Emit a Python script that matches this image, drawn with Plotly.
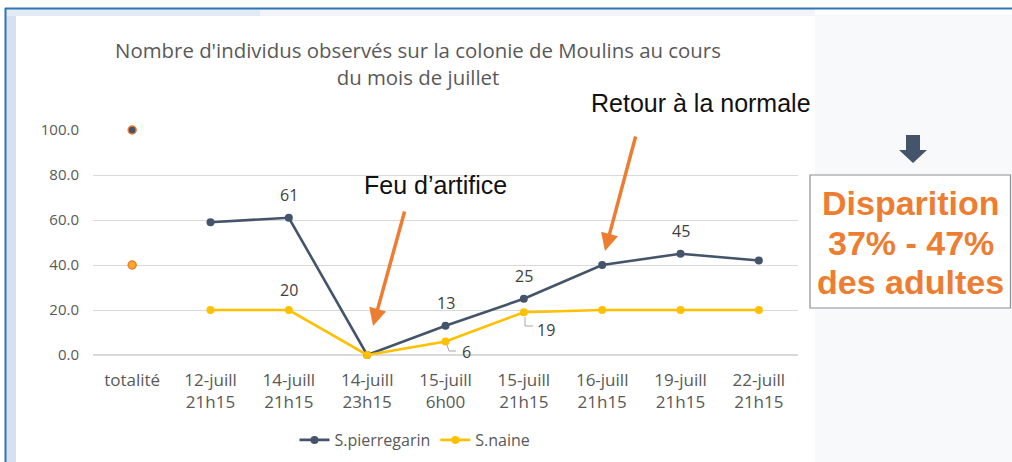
import plotly.graph_objects as go

# ---------------- data ----------------
categories = ["totalité", "12-juill<br>21h15", "14-juill<br>21h15", "14-juill<br>23h15",
              "15-juill<br>6h00", "15-juill<br>21h15", "16-juill<br>21h15",
              "19-juill<br>21h15", "22-juill<br>21h15"]
pierregarin = [None, 59, 61, 0, 13, 25, 40, 45, 42]
naine = [None, 20, 20, 0, 6, 19, 20, 20, 20]
totalite_pierregarin = 100
totalite_naine = 40
labels_pierregarin = ["", "", "61", "", "13", "25", "", "45", ""]
labels_naine = ["", "", "20", "", "6", "19", "", "", ""]
y_ticks = [0, 20, 40, 60, 80, 100]

NAVY = "#44546A"
YELLOW = "#FFC000"
ORANGE = "#ED7D31"
GREY_TXT = "#595959"
LBL = "#404040"
CH_FONT = "Open Sans"

W, H = 1012, 462
L, R, T, B = 93, 798, 130, 355   # plot area in pixels
PW, PH = R - L, B - T


def px(x):
    return (x - L) / PW


def py(y):
    return (B - y) / PH


xs = list(range(len(categories)))

fig = go.Figure()

fig.add_trace(go.Scatter(
    x=xs, y=pierregarin, name="S.pierregarin", mode="lines+markers",
    line=dict(color=NAVY, width=2.6), marker=dict(color=NAVY, size=8),
    connectgaps=False, cliponaxis=False))
fig.add_trace(go.Scatter(
    x=xs, y=naine, name="S.naine", mode="lines+markers",
    line=dict(color=YELLOW, width=2.6), marker=dict(color=YELLOW, size=8),
    connectgaps=False, cliponaxis=False))
# totalité points
fig.add_trace(go.Scatter(
    x=[xs[0]], y=[totalite_pierregarin], mode="markers", showlegend=False,
    marker=dict(color=NAVY, size=8, line=dict(color=ORANGE, width=1.5)), cliponaxis=False))
fig.add_trace(go.Scatter(
    x=[xs[0]], y=[totalite_naine], mode="markers", showlegend=False,
    marker=dict(color="#F9A825", size=8, line=dict(color=ORANGE, width=1.5)), cliponaxis=False))

annotations = []
# data labels
for i, t in enumerate(labels_pierregarin):
    if t:
        annotations.append(dict(x=xs[i], y=pierregarin[i], xref="x", yref="y", text=t, showarrow=False,
                                xanchor="center", yanchor="middle", yshift=23,
                                font=dict(family=CH_FONT, size=16, color=LBL)))
for i, t in enumerate(labels_naine):
    if not t:
        continue
    if i == 2:
        xsft, ysft = 0, 20
    elif i == 4:
        xsft, ysft = 21, -10
    else:
        xsft, ysft = 22, -18
    annotations.append(dict(x=xs[i], y=naine[i], xref="x", yref="y", text=t, showarrow=False,
                            xanchor="center", yanchor="middle", xshift=xsft, yshift=ysft,
                            font=dict(family=CH_FONT, size=16, color=LBL)))

shapes = []
# slide background decorations
shapes.append(dict(type="rect", xref="paper", yref="paper", x0=px(815), x1=px(1012), y0=py(462), y1=py(14),
                   fillcolor="#F8F9FB", line=dict(width=0), layer="below"))
shapes.append(dict(type="rect", xref="paper", yref="paper", x0=px(6), x1=px(16), y0=py(462), y1=py(9),
                   fillcolor="#D6E1EE", line=dict(width=0), layer="below"))
shapes.append(dict(type="rect", xref="paper", yref="paper", x0=px(6), x1=px(260), y0=py(16), y1=py(9),
                   fillcolor="#E2EAF3", line=dict(width=0), layer="below"))
shapes.append(dict(type="rect", xref="paper", yref="paper", x0=px(260), x1=px(815), y0=py(16), y1=py(9),
                   fillcolor="#F1F5F9", line=dict(width=0), layer="below"))
shapes.append(dict(type="line", xref="paper", yref="paper", x0=px(5), x1=px(1012), y0=py(8.5), y1=py(8.5),
                   line=dict(color="#2E75B6", width=2)))
shapes.append(dict(type="line", xref="paper", yref="paper", x0=px(5.5), x1=px(5.5), y0=py(8), y1=py(462),
                   line=dict(color="#2E75B6", width=2)))
# leader lines for 6 and 19
shapes.append(dict(type="path", xref="paper", yref="paper",
                   path=f"M {px(447)},{py(345)} L {px(449)},{py(351)} L {px(456)},{py(351)}",
                   line=dict(color="#A6A6A6", width=1)))
shapes.append(dict(type="path", xref="paper", yref="paper",
                   path=f"M {px(525)},{py(317)} L {px(525)},{py(326)} L {px(533)},{py(326)}",
                   line=dict(color="#A6A6A6", width=1)))
# right box
shapes.append(dict(type="rect", xref="paper", yref="paper", x0=px(810), x1=px(1010.5), y0=py(308), y1=py(175),
                   fillcolor="white", line=dict(color="#8E8E8E", width=1.2)))
# down block arrow
arrow_path = (f"M {px(906)},{py(135)} L {px(920)},{py(135)} L {px(920)},{py(150)} L {px(927)},{py(150)} "
              f"L {px(913)},{py(163)} L {px(899)},{py(150)} L {px(906)},{py(150)} Z")
shapes.append(dict(type="path", xref="paper", yref="paper", path=arrow_path,
                   fillcolor=NAVY, line=dict(width=0)))

annotations += [
    dict(xref="paper", yref="paper", x=px(435), y=py(185), text="Feu d’artifice", showarrow=False,
         xanchor="center", yanchor="middle",
         font=dict(family="Liberation Sans", size=25, color="#111111")),
    dict(xref="paper", yref="paper", x=px(701), y=py(103), text="Retour à la normale", showarrow=False,
         xanchor="center", yanchor="middle",
         font=dict(family="Liberation Sans", size=25, color="#111111")),
    dict(xref="paper", yref="paper", x=px(373), y=py(326), text="", showarrow=True,
         ax=32, ay=-116, arrowcolor=ORANGE, arrowwidth=3.5, arrowhead=2, arrowsize=1),
    dict(xref="paper", yref="paper", x=px(605), y=py(251), text="", showarrow=True,
         ax=31, ay=-116, arrowcolor=ORANGE, arrowwidth=3.5, arrowhead=2, arrowsize=1),
]
for txt, yy in [("Disparition", 203), ("37% - 47%", 243), ("des adultes", 282)]:
    annotations.append(dict(xref="paper", yref="paper", x=px(911), y=py(yy), text=f"<b>{txt}</b>",
                            showarrow=False, xanchor="center", yanchor="middle",
                            font=dict(family="Liberation Sans", size=34, color=ORANGE)))

fig.update_layout(
    width=W, height=H,
    margin=dict(l=L, r=W - R, t=T, b=H - B, pad=0, autoexpand=False),
    paper_bgcolor="white", plot_bgcolor="white",
    title=dict(text="Nombre d'individus observés sur la colonie de Moulins au cours<br>du mois de juillet",
               x=418 / W, xanchor="center", y=1 - 58 / H, yanchor="middle",
               font=dict(family=CH_FONT, size=20.4, color=GREY_TXT)),
    xaxis=dict(tickmode="array", tickvals=xs, ticktext=categories, range=[-0.5, len(xs) - 0.5],
               showgrid=False, zeroline=False, showline=False, ticks="", automargin=False,
               tickfont=dict(family=CH_FONT, size=17, color=GREY_TXT), ticklabelstandoff=13),
    yaxis=dict(range=[0, 100], tickvals=y_ticks, tickformat=".1f", automargin=False,
               showgrid=True, gridcolor="#D9D9D9", gridwidth=1, zeroline=True, zerolinecolor="#D9D9D9",
               showline=False, ticks="", tickfont=dict(family=CH_FONT, size=15, color=GREY_TXT),
               ticklabelstandoff=13),
    legend=dict(orientation="h", x=px(415), xanchor="center", y=py(440), yanchor="middle",
                font=dict(family=CH_FONT, size=16, color=GREY_TXT), bgcolor="rgba(0,0,0,0)",
                itemwidth=30),
    shapes=shapes, annotations=annotations, showlegend=True,
)

fig.write_html("out.html", config={"displayModeBar": False},
               post_script="document.body.style.margin='0';")
